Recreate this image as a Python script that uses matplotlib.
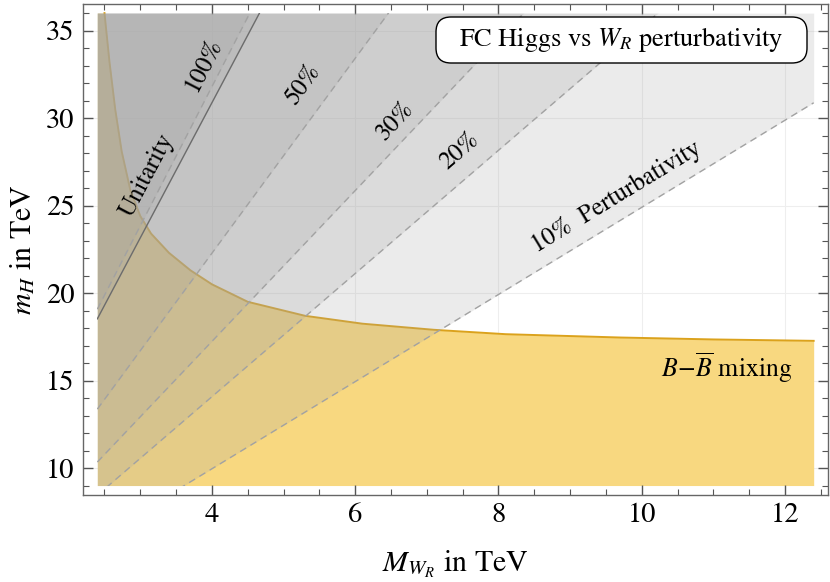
import matplotlib
matplotlib.use('Agg')
import matplotlib.pyplot as plt
import matplotlib.patches as patches
from matplotlib.ticker import MultipleLocator
import numpy as np

# perturbativity levels: m_H = slope * M_WR
band_labels = ['10%', '20%', '30%', '50%', '100%']
band_slopes = [2.49, 3.52, 4.31, 5.57, 7.95]
unitarity_slope = 7.72

# B-Bbar mixing bound (upper edge of the yellow region)
bmix_x = [2.40, 2.50, 2.57, 2.65, 2.74, 2.86, 3.00, 3.15, 3.40, 3.70, 4.00,
          4.50, 5.30, 6.10, 7.10, 8.10, 9.70, 11.0, 12.4]
bmix_y = [36.0, 36.0, 33.2, 30.5, 28.1, 25.9, 24.4, 23.4, 22.3, 21.3, 20.5,
          19.5, 18.7, 18.25, 17.9, 17.65, 17.46, 17.35, 17.27]

# plotted region
x_min, x_max = 2.4, 12.4
y_min, y_max = 9.0, 36.0

plt.rcParams['font.family'] = ['STIXGeneral', 'DejaVu Serif']
plt.rcParams['mathtext.fontset'] = 'stix'

fig = plt.figure(figsize=(8.3, 5.82), dpi=100)
ax = fig.add_axes([0.1, 0.1495, 0.8976, 0.8442])

pad_x = 0.02 * (x_max - x_min)
pad_y = 0.02 * (y_max - y_min)
ax.set_xlim(x_min - pad_x, x_max + pad_x)
ax.set_ylim(y_min - pad_y, y_max + pad_y)

# faint grid
for gx in [4, 6, 8, 10, 12]:
    ax.axvline(gx, color='#eeeeee', lw=0.8, zorder=0)
for gy in [10, 15, 20, 25, 30, 35]:
    ax.axhline(gy, color='#eeeeee', lw=0.8, zorder=0)

clip = patches.Rectangle((x_min, y_min), x_max - x_min, y_max - y_min,
                         transform=ax.transData, fill=False, visible=False)
ax.add_patch(clip)

# yellow B mixing region
bx = np.array(bmix_x)
by = np.array(bmix_y)
ax.fill_between(bx, y_min, by, color='#f8d880', lw=0, zorder=1)
ax.plot(bx[1:], by[1:], color='#dba21c', lw=1.4, zorder=2)

# gray perturbativity / unitarity layers
xs = np.linspace(x_min, x_max, 800)
for s in band_slopes + [unitarity_slope]:
    low = np.clip(s * xs, y_min, y_max)
    ax.fill_between(xs, low, y_max, color='#a4a4a4', alpha=0.22, lw=0, zorder=3)

for s in band_slopes:
    ln, = ax.plot(xs, s * xs, color='#a2a2a2', lw=1.0, dashes=(5, 3.6), zorder=4)
    ln.set_clip_path(clip)
ln, = ax.plot(xs, unitarity_slope * xs, color='#6c6c6c', lw=1.0, zorder=5)
ln.set_clip_path(clip)

# labels along the lines
label_pos = [(9.65, 25.5), (7.46, 28.1), (6.56, 29.86), (5.28, 31.9), (3.89, 33.0)]
for lab, s, (tx, ty) in zip(band_labels, band_slopes, label_pos):
    txt = lab
    if lab == '10%':
        txt = '10%  Perturbativity'
    ax.text(tx, ty, txt, fontsize=18, rotation=np.degrees(np.arctan(s)),
            transform_rotates_text=True, rotation_mode='anchor',
            ha='center', va='center', zorder=6)
ax.text(3.10, 26.7, 'Unitarity', fontsize=18,
        rotation=np.degrees(np.arctan(unitarity_slope)),
        transform_rotates_text=True, rotation_mode='anchor',
        ha='center', va='center', zorder=6)
ax.text(11.18, 15.7, r'$B\!-\!\overline{B}$ mixing', fontsize=18.5,
        ha='center', va='center', zorder=6)

# title box
box = patches.FancyBboxPatch((4.36, 5.19), 3.71, 0.46,
                             boxstyle='round,pad=0,rounding_size=0.15',
                             transform=fig.dpi_scale_trans, facecolor='white',
                             edgecolor='black', lw=1.0, zorder=7)
fig.patches.append(box)
fig.text(6.215 / 8.3, 5.42 / 5.82, r'FC Higgs vs $W_R$ perturbativity',
         fontsize=19, ha='center', va='center', zorder=8)

# frame and ticks
for sp in ax.spines.values():
    sp.set_color('#666666')
    sp.set_linewidth(1.0)
ax.xaxis.set_major_locator(MultipleLocator(2))
ax.xaxis.set_minor_locator(MultipleLocator(0.5))
ax.yaxis.set_major_locator(MultipleLocator(5))
ax.yaxis.set_minor_locator(MultipleLocator(1))
ax.tick_params(which='both', direction='in', top=True, right=True,
               color='#555555', labelsize=20.5)
ax.tick_params(which='major', length=7, width=1.0)
ax.tick_params(which='minor', length=4, width=0.8)
ax.tick_params(axis='x', pad=6)
ax.tick_params(axis='y', pad=6)

ax.set_xlabel(r'$M_{W_R}$ in TeV', fontsize=21.5, labelpad=14)
ax.set_ylabel(r'$m_H$ in TeV', fontsize=21.5, labelpad=6)

fig.savefig('out.png', dpi=100)
